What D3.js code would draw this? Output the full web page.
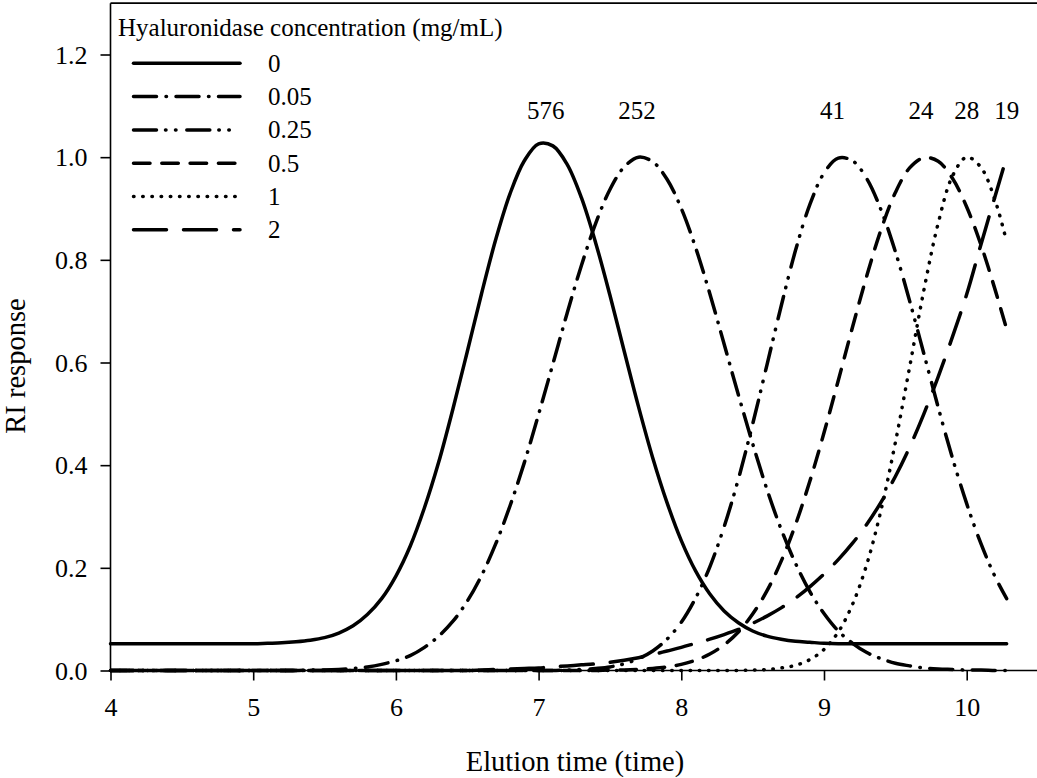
<!DOCTYPE html>
<html><head><meta charset="utf-8">
<script src="https://cdn.jsdelivr.net/npm/d3@7"></script>
<style>
body{margin:0;background:#fff}
svg{display:block}
text{font-family:"Liberation Serif","Times New Roman",Times,serif;fill:#000}
</style>
</head><body>
<svg id="chart" width="1037" height="778"></svg>
<script>
// ---------- DATA ----------
const time = [4.0,4.1,4.2,4.3,4.4,4.5,4.6,4.7,4.8,4.9,
  5.0,5.1,5.2,5.3,5.4,5.5,5.6,5.7,5.8,5.9,
  6.0,6.1,6.2,6.3,6.4,6.5,6.6,6.7,6.8,6.9,
  7.0,7.1,7.2,7.3,7.4,7.5,7.6,7.7,7.8,7.9,
  8.0,8.1,8.2,8.3,8.4,8.5,8.6,8.7,8.8,8.9,
  9.0,9.1,9.2,9.3,9.4,9.5,9.6,9.7,9.8,9.9,
  10.0,10.1,10.2,10.28];

const conc0 = [0.052,0.052,0.052,0.052,0.052,0.052,0.052,0.052,0.052,0.052,
  0.052,0.053,0.054,0.056,0.059,0.064,0.073,0.087,0.109,0.140,
  0.184,0.242,0.317,0.406,0.510,0.621,0.734,0.840,0.929,0.993,
  1.026,1.022,0.986,0.921,0.833,0.731,0.622,0.514,0.414,0.327,
  0.253,0.194,0.149,0.116,0.093,0.077,0.067,0.061,0.057,0.055,
  0.053,0.052,0.052,0.052,0.052,0.052,0.052,0.052,0.052,0.052,
  0.052,0.052,0.052,0.052];

const conc005 = [0,0,0,0,0,0,0,0,0,0,
  0,0,0,0,0.001,0.001,0.002,0.004,0.007,0.012,
  0.019,0.029,0.045,0.067,0.096,0.135,0.185,0.247,0.321,0.405,
  0.499,0.597,0.696,0.789,0.871,0.937,0.981,1.000,0.991,0.957,
  0.900,0.824,0.734,0.636,0.537,0.442,0.353,0.275,0.209,0.154,
  0.111,0.077,0.053,0.035,0.023,0.014,0.009,0.005,0.003,0.002,
  0.001,0.001,0,0];

const conc025 = [0,0,0,0,0,0,0,0,0,0,
  0,0,0,0,0,0,0,0,0,0,
  0,0,0,0,0,0,0,0,0,0,
  0,0,0.001,0.002,0.004,0.007,0.013,0.023,0.038,0.061,
  0.094,0.141,0.202,0.280,0.373,0.480,0.595,0.710,0.818,0.907,
  0.969,0.998,0.993,0.958,0.897,0.816,0.720,0.617,0.513,0.414,
  0.325,0.247,0.182,0.140];

const conc05 = [0,0,0,0,0,0,0,0,0,0,
  0,0,0,0,0,0,0,0,0,0,
  0,0,0,0,0,0,0,0,0,0,
  0,0,0,0,0,0.001,0.001,0.002,0.004,0.007,
  0.012,0.020,0.032,0.050,0.075,0.110,0.155,0.213,0.284,0.368,
  0.463,0.565,0.669,0.769,0.859,0.931,0.979,0.999,0.992,0.959,
  0.903,0.829,0.741,0.665];

const conc1 = [0,0,0,0,0,0,0,0,0,0,
  0,0,0,0,0,0,0,0,0,0,
  0,0,0,0,0,0,0,0,0,0,
  0,0,0,0,0,0,0,0,0,0,
  0,0,0,0,0,0.001,0.002,0.005,0.010,0.021,
  0.041,0.075,0.129,0.207,0.313,0.444,0.591,0.741,0.871,0.963,
  1.000,0.980,0.915,0.835];

const conc2 = [0,0,0,0,0,0,0,0,0,0,
  0,0,0,0,0,0,0,0,0,0,
  0,0,0,0,0,0,0.001,0.002,0.003,0.004,
  0.005,0.007,0.009,0.011,0.013,0.016,0.020,0.025,0.031,0.038,
  0.045,0.053,0.061,0.070,0.080,0.092,0.106,0.122,0.141,0.163,
  0.188,0.216,0.248,0.285,0.328,0.378,0.435,0.500,0.572,0.650,
  0.733,0.830,0.925,1.000];

const seriesNames = ["0","0.05","0.25","0.5","1","2"];
const peakLabels = ["576","252","41","24","28","19"];
const peakLabelTimes = [7.05,7.69,9.06,9.68,10.0,10.28];
const xTicks = [4,5,6,7,8,9,10];
const yTicks = [0,0.2,0.4,0.6,0.8,1.0,1.2];
const legendTitle = "Hyaluronidase concentration (mg/mL)";
const xTitle = "Elution time (time)";
const yTitle = "RI response";

// ---------- STYLES ----------
const dashes = [null, "23,9.5,0.5,9.5", "23,9,0.5,9.5,0.5,10.8", "16.5,11.8", "0.5,8.7", "33,17"];
const seriesValues = [conc0, conc005, conc025, conc05, conc1, conc2];
const FONT = '"Liberation Serif","Times New Roman",Times,serif';

const W = 1037, H = 778;
const svg = d3.select("#chart");

const x = d3.scaleLinear().domain([4,10]).range([110.5,966.7]);
const y = d3.scaleLinear().domain([0,1.2]).range([670.5,54.5]);
const xLeft = 110.5, xRight = W, yTop = y(1.3), yBottom = y(0);

// frame top line
svg.append("line").attr("x1",xLeft).attr("x2",xRight).attr("y1",yTop).attr("y2",yTop)
  .attr("stroke","#000").attr("stroke-width",1.6);

// axes
const gx = svg.append("g").attr("transform",`translate(0,${yBottom})`)
  .call(d3.axisBottom(x).tickValues(xTicks).tickFormat(d3.format("d")).tickSize(10));
gx.select(".domain").remove();
gx.selectAll("line").attr("stroke","#000").attr("stroke-width",1.6);
gx.selectAll("text").attr("y",45.5).attr("dy",0).style("font-size","26px").style("font-family",FONT);

const gy = svg.append("g").attr("transform",`translate(${xLeft},0)`)
  .call(d3.axisLeft(y).tickValues(yTicks).tickFormat(d3.format(".1f")).tickSize(10));
gy.select(".domain").remove();
gy.selectAll("line").attr("stroke","#000").attr("stroke-width",1.6);
gy.selectAll("text").attr("x",-23).attr("dy","0.33em").style("font-size","26px").style("font-family",FONT);

svg.append("line").attr("x1",xLeft).attr("x2",xLeft).attr("y1",yTop).attr("y2",yBottom)
  .attr("stroke","#000").attr("stroke-width",1.6);
svg.append("line").attr("x1",xLeft).attr("x2",xRight).attr("y1",yBottom).attr("y2",yBottom)
  .attr("stroke","#000").attr("stroke-width",1.6);

// curves
const line = d3.line().x((d,i)=>x(time[i])).y(d=>y(d)).curve(d3.curveCatmullRom.alpha(0.5));
const gLines = svg.append("g");
seriesValues.forEach((vals,k)=>{
  gLines.append("path").datum(vals).attr("d",line)
    .attr("fill","none").attr("stroke","#000").attr("stroke-width",3.5)
    .attr("stroke-linecap","round").attr("stroke-linejoin","round")
    .attr("stroke-dasharray",dashes[k]);
});

// peak labels
svg.append("g").selectAll("text").data(peakLabels).join("text")
  .attr("x",(d,i)=>x(peakLabelTimes[i])).attr("y",119)
  .attr("text-anchor","middle").style("font-size","25px").text(d=>d);

// legend
const lg = svg.append("g");
lg.append("text").attr("x",118).attr("y",36).style("font-size","25px").text(legendTitle);
seriesNames.forEach((name,k)=>{
  const ry = 63.3 + k*33.3;
  lg.append("line").attr("x1",133.5).attr("x2",240).attr("y1",ry).attr("y2",ry)
    .attr("stroke","#000").attr("stroke-width",3.5).attr("stroke-linecap","round")
    .attr("stroke-dasharray",dashes[k]);
  lg.append("text").attr("x",268).attr("y",ry+8.5).style("font-size","25px").text(name);
});

// axis titles
svg.append("text").attr("x",575).attr("y",771).attr("text-anchor","middle")
  .style("font-size","28.5px").text(xTitle);
svg.append("text").attr("transform","translate(25,366) rotate(-90)").attr("text-anchor","middle")
  .style("font-size","28.5px").text(yTitle);
</script>
</body></html>
